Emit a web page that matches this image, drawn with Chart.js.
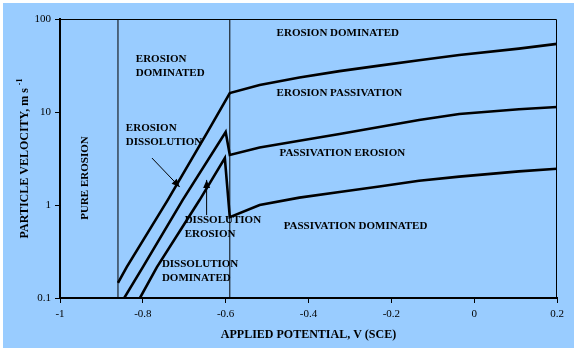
<!DOCTYPE html>
<html>
<head>
<meta charset="utf-8">
<script src="https://cdn.jsdelivr.net/npm/chart.js@4/dist/chart.umd.min.js"></script>
<style>
  html, body { margin: 0; padding: 0; background: #ffffff; }
  #wrap { width: 576px; height: 355px; }
</style>
</head>
<body>
<div id="wrap"><canvas id="c" width="576" height="355"></canvas></div>
<script>
// ---- axis ticks ----
const xTickValues = [-1, -0.8, -0.6, -0.4, -0.2, 0, 0.2];
const xTickLabels = ['-1', '-0.8', '-0.6', '-0.4', '-0.2', '0', '0.2'];
const yTickValues = [0.1, 1, 10, 100];
const yTickLabels = ['0.1', '1', '10', '100'];

// ---- curves: applied potential (V SCE) vs particle velocity (m/s) ----
const upperPotential = [-0.860, -0.839, -0.740, -0.643, -0.590, -0.518, -0.422, -0.325, -0.229, -0.133, -0.036, 0.108, 0.200];
const upperVelocity  = [0.145, 0.215, 1.13, 6.2, 16.0, 19.5, 23.5, 27.5, 31.5, 36.0, 41.0, 48.0, 54.0];

const middlePotential = [-0.848, -0.800, -0.704, -0.600, -0.590, -0.518, -0.422, -0.325, -0.229, -0.133, -0.036, 0.108, 0.200];
const middleVelocity  = [0.095, 0.215, 1.13, 6.1, 3.45, 4.15, 4.9, 5.8, 6.9, 8.2, 9.5, 10.7, 11.3];

const lowerPotential = [-0.807, -0.766, -0.663, -0.602, -0.590, -0.518, -0.422, -0.325, -0.229, -0.133, -0.036, 0.108, 0.200];
const lowerVelocity  = [0.10, 0.215, 1.13, 3.2, 0.74, 1.0, 1.2, 1.38, 1.58, 1.82, 2.02, 2.3, 2.45];

// ---- region boundaries (vertical lines) ----
const boundaryPotentials = [-0.86, -0.59];

// ---- region labels (data coordinates of first line, left aligned) ----
const regionLabelTexts = [
  ['EROSION DOMINATED'],
  ['EROSION', 'DOMINATED'],
  ['EROSION', 'DISSOLUTION'],
  ['DISSOLUTION', 'EROSION'],
  ['DISSOLUTION', 'DOMINATED'],
  ['EROSION PASSIVATION'],
  ['PASSIVATION EROSION'],
  ['PASSIVATION DOMINATED']
];
const regionLabelPotential = [-0.477, -0.817, -0.841, -0.699, -0.754, -0.477, -0.470, -0.460];
const regionLabelVelocity  = [70.6, 37.2, 6.7, 0.69, 0.232, 16.0, 3.63, 0.594];
const verticalLabelText = 'PURE EROSION';
const verticalLabelPoint = [-0.940, 1.95];

// ---- arrows (from -> to, data coordinates) ----
const arrowFrom = [[-0.778, 3.2], [-0.646, 0.78]];
const arrowTo   = [[-0.711, 1.56], [-0.646, 1.86]];

const toXY = (xs, ys) => xs.map((x, i) => ({ x: x, y: ys[i] }));

const curveStyle = {
  borderColor: '#000000', borderWidth: 2.6, pointRadius: 0, fill: false,
  tension: 0, showLine: true
};

const datasets = [
  Object.assign({ label: 'upper', data: toXY(upperPotential, upperVelocity) }, curveStyle),
  Object.assign({ label: 'middle', data: toXY(middlePotential, middleVelocity) }, curveStyle),
  Object.assign({ label: 'lower', data: toXY(lowerPotential, lowerVelocity) }, curveStyle)
];
boundaryPotentials.forEach((p, i) => {
  datasets.push({
    label: 'boundary' + i,
    data: [{ x: p, y: yTickValues[0] }, { x: p, y: yTickValues[yTickValues.length - 1] }],
    borderColor: '#000000', borderWidth: 1, pointRadius: 0, showLine: true, fill: false
  });
});

const SERIF = '"Liberation Serif", "Times New Roman", serif';

const decorPlugin = {
  id: 'decor',
  beforeDraw(chart) {
    const ctx = chart.ctx;
    ctx.save();
    ctx.fillStyle = '#ffffff';
    ctx.fillRect(0, 0, chart.width, chart.height);
    ctx.fillStyle = '#99CCFF';
    ctx.fillRect(3, 3, 571, 345);
    ctx.restore();
  },
  afterDatasetsDraw(chart) {
    const ctx = chart.ctx;
    const xs = chart.scales.x, ys = chart.scales.y;
    const a = chart.chartArea;
    ctx.save();
    // top/right frame
    ctx.strokeStyle = '#000';
    ctx.lineWidth = 1;
    ctx.beginPath();
    ctx.moveTo(a.left, a.top + 0.5);
    ctx.lineTo(a.right - 0.5, a.top + 0.5);
    ctx.lineTo(a.right - 0.5, a.bottom);
    ctx.stroke();

    // region labels
    ctx.fillStyle = '#000';
    ctx.font = 'bold 11px ' + SERIF;
    ctx.textAlign = 'left';
    ctx.textBaseline = 'middle';
    regionLabelTexts.forEach((lines, i) => {
      const px = xs.getPixelForValue(regionLabelPotential[i]);
      const py = ys.getPixelForValue(regionLabelVelocity[i]);
      lines.forEach((t, j) => ctx.fillText(t, px, py + j * 14));
    });
    // vertical label
    ctx.save();
    ctx.translate(xs.getPixelForValue(verticalLabelPoint[0]), ys.getPixelForValue(verticalLabelPoint[1]));
    ctx.rotate(-Math.PI / 2);
    ctx.textAlign = 'center';
    ctx.fillText(verticalLabelText, 0, 0);
    ctx.restore();

    // arrows
    ctx.lineWidth = 1;
    arrowFrom.forEach((f, i) => {
      const x1 = xs.getPixelForValue(f[0]), y1 = ys.getPixelForValue(f[1]);
      const x2 = xs.getPixelForValue(arrowTo[i][0]), y2 = ys.getPixelForValue(arrowTo[i][1]);
      const ang = Math.atan2(y2 - y1, x2 - x1);
      ctx.beginPath();
      ctx.moveTo(x1, y1);
      ctx.lineTo(x2, y2);
      ctx.stroke();
      const L = 8, W = 3.5;
      ctx.beginPath();
      ctx.moveTo(x2, y2);
      ctx.lineTo(x2 - L * Math.cos(ang) + W * Math.sin(ang), y2 - L * Math.sin(ang) - W * Math.cos(ang));
      ctx.lineTo(x2 - L * Math.cos(ang) - W * Math.sin(ang), y2 - L * Math.sin(ang) + W * Math.cos(ang));
      ctx.closePath();
      ctx.fill();
    });

    // axis titles
    ctx.textAlign = 'center';
    ctx.textBaseline = 'middle';
    ctx.font = 'bold 12px ' + SERIF;
    ctx.fillText('APPLIED POTENTIAL, V (SCE)', (a.left + a.right) / 2, 335);

    ctx.save();
    ctx.translate(25, (a.top + a.bottom) / 2);
    ctx.rotate(-Math.PI / 2);
    const main = 'PARTICLE VELOCITY, m s ';
    ctx.font = 'bold 12px ' + SERIF;
    const w1 = ctx.measureText(main).width;
    ctx.font = 'bold 8px ' + SERIF;
    const w2 = ctx.measureText('-1').width;
    const start = -(w1 + w2) / 2;
    ctx.textAlign = 'left';
    ctx.font = 'bold 12px ' + SERIF;
    ctx.fillText(main, start, 0);
    ctx.font = 'bold 8px ' + SERIF;
    ctx.fillText('-1', start + w1, -5);
    ctx.restore();

    ctx.restore();
  }
};

new Chart(document.getElementById('c'), {
  type: 'scatter',
  data: { datasets: datasets },
  options: {
    responsive: false,
    animation: false,
    layout: { padding: { left: 0, right: 19, top: 19, bottom: 0 } },
    plugins: { legend: { display: false }, tooltip: { enabled: false }, title: { display: false } },
    scales: {
      x: {
        type: 'linear', min: -1, max: 0.2,
        afterBuildTicks: s => { s.ticks = xTickValues.map(v => ({ value: v })); },
        afterFit: s => { s.height = 57; },
        ticks: {
          callback: (v, i) => xTickLabels[i],
          font: { family: SERIF, size: 11 }, color: '#000', padding: 5,
          maxRotation: 0, autoSkip: false
        },
        grid: { drawOnChartArea: false, drawTicks: true, tickLength: 5, color: '#000', tickWidth: 1 },
        border: { display: true, color: '#000', width: 2 }
      },
      y: {
        type: 'logarithmic', min: 0.1, max: 100,
        afterBuildTicks: s => { s.ticks = yTickValues.map(v => ({ value: v })); },
        afterFit: s => { s.width = 60; },
        ticks: {
          callback: (v, i) => yTickLabels[i],
          font: { family: SERIF, size: 11 }, color: '#000', padding: 4,
          autoSkip: false
        },
        grid: { drawOnChartArea: false, drawTicks: true, tickLength: 5, color: '#000', tickWidth: 1 },
        border: { display: true, color: '#000', width: 2 }
      }
    }
  },
  plugins: [decorPlugin]
});
</script>
</body>
</html>
